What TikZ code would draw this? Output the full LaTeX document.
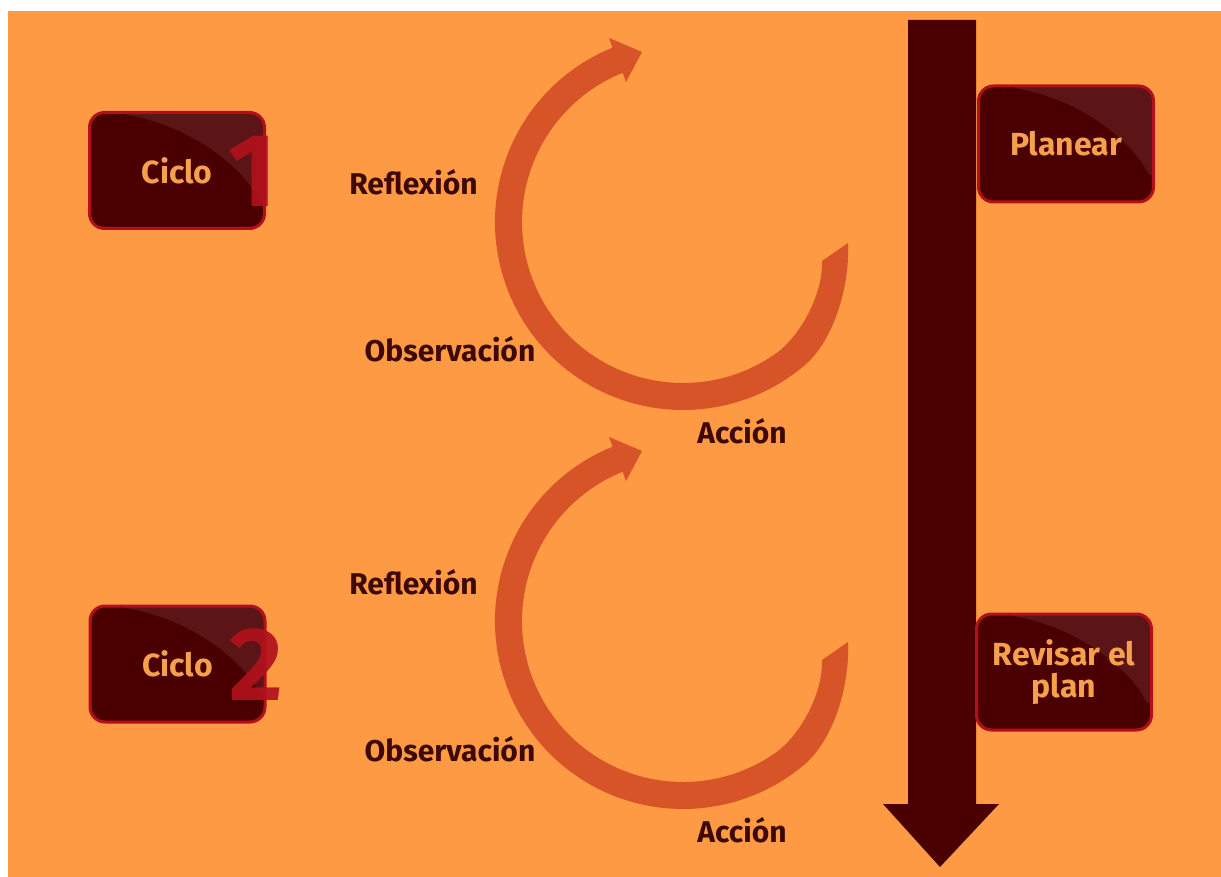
\documentclass[tikz,border=0pt]{standalone}
\usepackage{fontspec}
\setmainfont{Fira Sans}
\usetikzlibrary{calc}

\definecolor{bgorange}{HTML}{FD9A43}
\definecolor{arcorange}{HTML}{D75428}
\definecolor{darkmaroon}{HTML}{4A0000}
\definecolor{glossmaroon}{HTML}{5B1517}
\definecolor{boxred}{HTML}{B3101B}
\definecolor{numred}{HTML}{B0121C}
\definecolor{labeltext}{HTML}{3E0806}
\definecolor{boxtext}{HTML}{F4A04C}

\begin{document}
\begin{tikzpicture}[x=0.5pt,y=-0.5pt,
  % rounded step box with a glossy upper-right sheen
  stepbox/.style={draw=boxred, line width=1.5pt, fill=darkmaroon,
    rounded corners=7.5pt, minimum width=87.5pt, minimum height=58pt,
    inner sep=0pt, align=center, text=boxtext,
    font=\bfseries\fontsize{16}{16}\selectfont,
    path picture={
      \coordinate (pnw) at (path picture bounding box.north west);
      \coordinate (pne) at (path picture bounding box.north east);
      \fill[glossmaroon] ($(pnw)+(25,0)$)
        .. controls ($(pnw)+(102,14)$) and ($(pnw)+(152,54)$) .. ($(pnw)+(175,98)$)
        -- ($(pne)+(10,-10)$) -- ($(pnw)+(25,-10)$) -- cycle;}},
  cyclenum/.style={text=numred, opacity=0.92, inner sep=0pt,
    font=\bfseries\fontsize{52}{52}\selectfont},
  phase/.style={text=labeltext, inner sep=0pt,
    font=\bfseries\fontsize{15}{15}\selectfont},
  % circular arrow of one action-research cycle
  cyclearrow/.pic={
    \fill[arcorange] (848,243) -- (822,261)
      .. controls (823,295) and (799.9,336.7) .. (775.35,353.89)
      arc[start angle=55, end angle=248, radius=161]
      -- (626,82) -- (642,52) -- (609,38) -- (612.57,47.69)
      arc[start angle=248, end angle=50, radius=188]
      .. controls (834.5,340.3) and (850,285) .. (848,243) -- cycle;
  }]

\useasboundingbox (0,0) rectangle (1221,877);
\fill[white] (0,0) rectangle (1221,877);
\fill[bgorange] (8,11) rectangle (1221,877);

% the two cycles
\pic at (0,0) {cyclearrow};
\pic at (0,399) {cyclearrow};

% phase labels
\node[phase, anchor=base] (refl1) at (413.5,195) {Reflexión};
\node[phase, anchor=base] (obs1)  at (450,362)   {Observación};
\node[phase, anchor=base] (acc1)  at (742,443)   {Acción};
\node[phase, anchor=base] (refl2) at (413.5,594) {Reflexión};
\node[phase, anchor=base] (obs2)  at (450,761)   {Observación};
\node[phase, anchor=base] (acc2)  at (742,842)   {Acción};

% timeline arrow
\coordinate (tltop) at (942,20);
\coordinate (tltip) at (940,867);
\fill[darkmaroon] (908,20) -- (976,20) -- (976,804) -- (999,804)
  -- (tltip) -- (883,804) -- (908,804) -- cycle;

% step boxes
\node[stepbox] (ciclo1)  at (177,170.5) {Ciclo};
\node[stepbox] (ciclo2)  at (177.5,664) {Ciclo};
\node[stepbox] (planear) at (1066,144)  {Planear};
\node[stepbox] (revisar) at (1064,672)  {Revisar el\\plan};

% cycle numbers
\node[cyclenum, anchor=base] (num1) at (252.5,207) {1};
\node[cyclenum, anchor=base] (num2) at (256.5,700) {2};

\end{tikzpicture}
\end{document}
